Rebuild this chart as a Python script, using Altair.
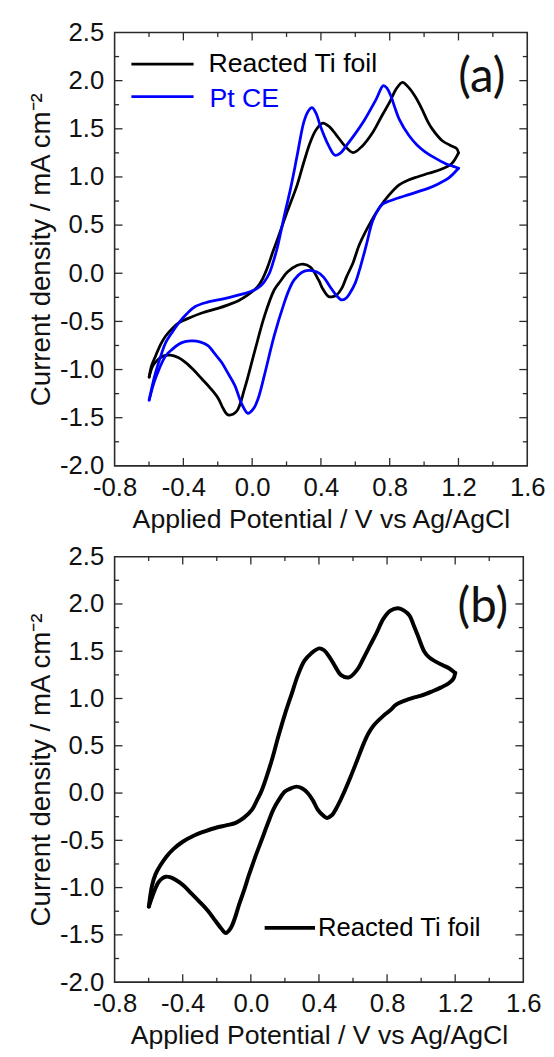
import altair as alt
import pandas as pd

# ---------------- data ----------------
X_LABELS = [-0.8, -0.4, 0.0, 0.4, 0.8, 1.2, 1.6]
Y_LABELS = [-2.0, -1.5, -1.0, -0.5, 0.0, 0.5, 1.0, 1.5, 2.0, 2.5]
X_MAJOR = [-0.4, 0.0, 0.4, 0.8, 1.2]
X_MINOR = [-0.6, -0.2, 0.2, 0.6, 1.0, 1.4]
Y_MAJOR = [-1.5, -1.0, -0.5, 0.0, 0.5, 1.0, 1.5, 2.0]
Y_MINOR = [-1.75, -1.25, -0.75, -0.25, 0.25, 0.75, 1.25, 1.75, 2.25]

X_TITLE = "Applied Potential / V vs Ag/AgCl"
Y_TITLE = "Current density / mA cm\u207b\u00b2"

SERIES_TI = "Reacted Ti foil"
SERIES_PT = "Pt CE"

# panel (a) - Reacted Ti foil, forward sweep
a_ti_fwd_x = [-0.599, -0.585, -0.561, -0.533, -0.503, -0.46, -0.427, -0.36, -0.293, -0.2, -0.14,
              -0.08, -0.025, 0.032, 0.06, 0.09, 0.12, 0.147, 0.205, 0.262, 0.30, 0.338, 0.372,
              0.411, 0.45, 0.492, 0.54, 0.587, 0.64, 0.702, 0.75, 0.798, 0.84, 0.874, 0.91,
              0.95, 0.989, 1.02, 1.047, 1.104, 1.15, 1.19, 1.2]
a_ti_fwd_y = [-1.078, -0.96, -0.856, -0.74, -0.651, -0.565, -0.515, -0.46, -0.413, -0.365, -0.328,
              -0.285, -0.225, -0.14, -0.06, 0.065, 0.22, 0.35, 0.645, 0.918, 1.15, 1.36, 1.49,
              1.56, 1.52, 1.43, 1.32, 1.253, 1.32, 1.464, 1.62, 1.771, 1.92, 1.983, 1.93,
              1.83, 1.70, 1.58, 1.499, 1.379, 1.33, 1.294, 1.25]
# panel (a) - Reacted Ti foil, reverse sweep
a_ti_rev_x = [1.2, 1.161, 1.1, 1.027, 0.96, 0.912, 0.855, 0.798, 0.74, 0.70, 0.625, 0.587,
              0.549, 0.52, 0.492, 0.465, 0.444, 0.41, 0.387, 0.338, 0.296, 0.26, 0.205, 0.165,
              0.128, 0.071, 0.013, -0.044, -0.092, -0.14, -0.17, -0.197, -0.245, -0.293, -0.34,
              -0.388, -0.43, -0.475, -0.523, -0.555, -0.58, -0.599]
a_ti_rev_y = [1.25, 1.14, 1.08, 1.038, 1.0, 0.97, 0.918, 0.816, 0.68, 0.565, 0.304, 0.11,
              -0.037, -0.16, -0.225, -0.245, -0.242, -0.16, -0.072, 0.065, 0.095, 0.08, 0.012, -0.08,
              -0.174, -0.447, -0.822, -1.198, -1.437, -1.47, -1.40, -1.30, -1.19, -1.096, -1.005,
              -0.925, -0.875, -0.85, -0.863, -0.91, -0.97, -1.078]

# panel (a) - Pt CE, forward sweep
a_pt_fwd_x = [-0.599, -0.58, -0.561, -0.53, -0.503, -0.46, -0.427, -0.38, -0.331, -0.26, -0.197,
              -0.13, -0.064, 0.013, 0.05, 0.071, 0.10, 0.128, 0.147, 0.186, 0.224, 0.262, 0.30,
              0.325, 0.348, 0.372, 0.396, 0.444, 0.482, 0.515, 0.549, 0.60, 0.645, 0.721, 0.763,
              0.785, 0.807, 0.83, 0.855, 0.912, 0.96, 1.008, 1.065, 1.123, 1.17, 1.2]
a_pt_fwd_y = [-1.317, -1.16, -1.027, -0.85, -0.72, -0.60, -0.515, -0.42, -0.345, -0.30, -0.277,
              -0.25, -0.22, -0.174, -0.13, -0.088, 0.0, 0.15, 0.27, 0.59, 0.884, 1.225, 1.567,
              1.68, 1.72, 1.66, 1.532, 1.328, 1.225, 1.25, 1.328, 1.45, 1.567, 1.806, 1.949,
              1.92, 1.84, 1.72, 1.601, 1.43, 1.33, 1.259, 1.195, 1.14, 1.11, 1.09]
# panel (a) - Pt CE, reverse sweep
a_pt_rev_x = [1.2, 1.142, 1.085, 1.027, 0.97, 0.912, 0.855, 0.798, 0.76, 0.74, 0.70, 0.665,
              0.63, 0.60, 0.568, 0.545, 0.52, 0.49, 0.453, 0.415, 0.377, 0.329, 0.29, 0.243,
              0.215, 0.186, 0.128, 0.071, 0.035, 0.01, -0.025, -0.06, -0.101, -0.14, -0.178,
              -0.22, -0.255, -0.30, -0.35, -0.39, -0.427, -0.465, -0.503, -0.54, -0.57, -0.599]
a_pt_rev_y = [1.09, 0.987, 0.93, 0.884, 0.85, 0.816, 0.785, 0.75, 0.72, 0.68, 0.54, 0.30,
              0.07, -0.10, -0.208, -0.26, -0.277, -0.23, -0.14, -0.04, 0.012, 0.03, 0.01, -0.072,
              -0.17, -0.31, -0.651, -1.061, -1.30, -1.40, -1.454, -1.36, -1.164, -1.04, -0.925,
              -0.83, -0.754, -0.715, -0.703, -0.71, -0.737, -0.79, -0.856, -0.99, -1.13, -1.317]

# panel (b) - Reacted Ti foil, forward sweep
b_ti_fwd_x = [-0.599, -0.58, -0.56, -0.532, -0.495, -0.455, -0.40, -0.339, -0.27, -0.205, -0.14,
              -0.089, -0.04, 0.007, 0.035, 0.065, 0.123, 0.16, 0.20, 0.24, 0.277, 0.315, 0.354,
              0.402, 0.43, 0.46, 0.495, 0.528, 0.576, 0.624, 0.66, 0.701, 0.74, 0.778, 0.82,
              0.865, 0.90, 0.932, 0.955, 0.98, 1.019, 1.05, 1.086, 1.13, 1.164, 1.2]
b_ti_fwd_y = [-1.20, -0.976, -0.86, -0.767, -0.67, -0.593, -0.515, -0.454, -0.405, -0.367, -0.34,
              -0.315, -0.26, -0.175, -0.08, 0.033, 0.347, 0.59, 0.833, 1.05, 1.25, 1.40, 1.477,
              1.53, 1.51, 1.443, 1.34, 1.25, 1.223, 1.303, 1.42, 1.564, 1.70, 1.842, 1.93,
              1.954, 1.93, 1.877, 1.78, 1.668, 1.495, 1.43, 1.39, 1.35, 1.32, 1.27]
# panel (b) - Reacted Ti foil, reverse sweep
b_ti_rev_x = [1.2, 1.19, 1.164, 1.115, 1.067, 1.0, 0.951, 0.90, 0.855, 0.815, 0.778, 0.72,
              0.69, 0.662, 0.625, 0.586, 0.548, 0.508, 0.475, 0.447, 0.42, 0.393, 0.365, 0.335,
              0.30, 0.268, 0.235, 0.20, 0.165, 0.132, 0.10, 0.065, 0.025, -0.012, -0.04, -0.07,
              -0.095, -0.118, -0.147, -0.175, -0.205, -0.25, -0.301, -0.35, -0.397, -0.44,
              -0.475, -0.50, -0.523, -0.545, -0.561, -0.58, -0.599]
b_ti_rev_y = [1.27, 1.21, 1.164, 1.115, 1.077, 1.03, 1.007, 0.975, 0.937, 0.87, 0.816, 0.712,
              0.63, 0.52, 0.35, 0.172, 0.01, -0.141, -0.235, -0.263, -0.23, -0.175, -0.08, -0.002,
              0.05, 0.068, 0.05, 0.016, -0.07, -0.175, -0.32, -0.489, -0.68, -0.872, -1.03, -1.185,
              -1.33, -1.428, -1.48, -1.43, -1.359, -1.25, -1.15, -1.06, -0.976, -0.92,
              -0.889, -0.885, -0.906, -0.95, -1.01, -1.10, -1.20]

# ---------------- styling ----------------
FONT = "Liberation Sans"
TXT = "#111111"
FRAME = "#2a2a2a"
BLUE = "#0000ff"
BLACK = "#000000"
LABEL_EXPR = "replace(format(datum.value, '.1f'), '\u2212', '-')"


def build(parts):
    rows = []
    for name, sweep, xs, ys in parts:
        for i, (x, y) in enumerate(zip(xs, ys)):
            rows.append({"series": name, "path": name + "-" + sweep, "i": i, "x": x, "y": y})
    return pd.DataFrame(rows)


def panel(df, names, colors, W, H, lw, legend, tag, tag_pos):
    xs = alt.Scale(domain=[-0.8, 1.6], nice=False, zero=False)
    ys = alt.Scale(domain=[-2.0, 2.5], nice=False, zero=False)
    xaxis = alt.Axis(values=X_LABELS, labelExpr=LABEL_EXPR, title=X_TITLE, ticks=False,
                     domain=False, grid=False, labelPadding=9, titlePadding=6,
                     labelFontSize=26, titleFontSize=27, labelFont=FONT, titleFont=FONT,
                     labelColor=TXT, titleColor=TXT, titleFontWeight="normal",
                     labelFlush=False, labelOverlap=False)
    yaxis = alt.Axis(values=Y_LABELS, labelExpr=LABEL_EXPR, title=Y_TITLE, ticks=False,
                     domain=False, grid=False, labelPadding=11, titlePadding=4,
                     labelFontSize=26, titleFontSize=28, labelFont=FONT, titleFont=FONT,
                     labelColor=TXT, titleColor=TXT, titleFontWeight="normal",
                     labelFlush=False, labelOverlap=False)

    lines = alt.Chart(df).mark_line(
        interpolate="catmull-rom", strokeWidth=lw, strokeCap="round", strokeJoin="round"
    ).encode(
        x=alt.X("x:Q", scale=xs, axis=xaxis),
        y=alt.Y("y:Q", scale=ys, axis=yaxis),
        color=alt.Color("series:N", scale=alt.Scale(domain=names, range=colors), legend=None),
        detail="path:N",
        order="i:Q",
    )

    layers = [lines]

    def xt(vals, L, top):
        d = pd.DataFrame({"x": vals})
        y0, y1 = (0, L) if top else (H, H - L)
        return alt.Chart(d).mark_rule(color=FRAME, strokeWidth=1.3).encode(
            x=alt.X("x:Q", scale=xs, axis=xaxis), y=alt.value(y0), y2=alt.value(y1))

    def yt(vals, L, right):
        d = pd.DataFrame({"y": vals})
        x0, x1 = (W, W - L) if right else (0, L)
        return alt.Chart(d).mark_rule(color=FRAME, strokeWidth=1.3).encode(
            y=alt.Y("y:Q", scale=ys, axis=yaxis), x=alt.value(x0), x2=alt.value(x1))

    for top in (False, True):
        layers.append(xt(X_MAJOR, 8, top))
        layers.append(xt(X_MINOR, 4.5, top))
    for right in (False, True):
        layers.append(yt(Y_MAJOR, 8, right))
        layers.append(yt(Y_MINOR, 4.5, right))

    one = pd.DataFrame({"k": [0]})
    for (label, color, x0, x1, yl, tx, ty, fs) in legend:
        layers.append(alt.Chart(one).mark_rule(color=color, strokeWidth=lw).encode(
            x=alt.value(x0), x2=alt.value(x1), y=alt.value(yl)))
        layers.append(alt.Chart(one).mark_text(
            text=label, align="left", baseline="alphabetic", font=FONT, fontSize=fs, color=color
        ).encode(x=alt.value(tx), y=alt.value(ty)))

    layers.append(alt.Chart(one).mark_text(
        text=tag, align="center", baseline="alphabetic", font="Lato", fontSize=48, color=TXT
    ).encode(x=alt.value(tag_pos[0]), y=alt.value(tag_pos[1])))

    return alt.layer(*layers).properties(width=W, height=H)


df_a = build([
    (SERIES_TI, "fwd", a_ti_fwd_x, a_ti_fwd_y),
    (SERIES_TI, "rev", a_ti_rev_x, a_ti_rev_y),
    (SERIES_PT, "fwd", a_pt_fwd_x, a_pt_fwd_y),
    (SERIES_PT, "rev", a_pt_rev_x, a_pt_rev_y),
])
df_b = build([
    (SERIES_TI, "fwd", b_ti_fwd_x, b_ti_fwd_y),
    (SERIES_TI, "rev", b_ti_rev_x, b_ti_rev_y),
])

pa = panel(df_a, [SERIES_TI, SERIES_PT], [BLACK, BLUE], 418, 439, 2.8,
           [(SERIES_TI, BLACK, 17, 80, 32, 95, 40, 27),
            (SERIES_PT, BLUE, 17, 80, 65, 96, 75, 27)],
           "(a)", (372, 60))
pb = panel(df_b, [SERIES_TI], [BLACK], 414, 431, 4.0,
           [(SERIES_TI, BLACK, 152, 203, 376, 206, 384, 26)],
           "(b)", (373, 66))

chart = alt.vconcat(pa, pb, spacing=10).properties(
    padding={"left": 19, "top": 4, "right": 0, "bottom": 0},
    background="white",
).configure_view(stroke=FRAME, strokeWidth=1.6)

chart.save("out.html", embed_options={"renderer": "svg", "actions": False})
